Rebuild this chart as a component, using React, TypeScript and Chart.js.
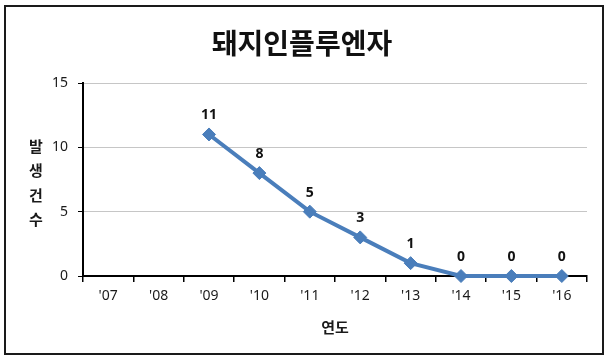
import React, { useEffect, useRef } from "react";
import { Chart, registerables } from "chart.js";

Chart.register(...registerables);

const TITLE = "돼지인플루엔자";
const Y_LABEL = ["발", "생", "건", "수"];
const X_LABEL = "연도";
const YEARS = ["'07", "'08", "'09", "'10", "'11", "'12", "'13", "'14", "'15", "'16"];
const CASES: (number | null)[] = [null, null, 11, 8, 5, 3, 1, 0, 0, 0];

const KR = "'Noto Sans CJK KR', 'Noto Sans', sans-serif";
const NUM = "'Noto Sans', 'DejaVu Sans', sans-serif";
const LINE = "#4A7EBB";

const decorPlugin = {
  id: "decor",
  beforeDraw(chart: any) {
    const ctx = chart.ctx;
    ctx.save();
    ctx.fillStyle = "#ffffff";
    ctx.fillRect(0, 0, chart.width, chart.height);
    ctx.restore();
  },
  afterDraw(chart: any) {
    const ctx = chart.ctx;
    const ca = chart.chartArea;
    ctx.save();
    ctx.strokeStyle = "#1a1a1a";
    ctx.lineWidth = 2;
    ctx.strokeRect(5, 6, 598, 348);
    ctx.fillStyle = "#111111";
    ctx.font = `bold 28px ${KR}`;
    ctx.textAlign = "center";
    ctx.textBaseline = "middle";
    ctx.fillText(TITLE, 302, 43);
    ctx.font = `bold 15px ${KR}`;
    ctx.fillStyle = "#1a1a1a";
    const mid = (ca.top + ca.bottom) / 2 + 3.5;
    const step = 24.5;
    Y_LABEL.forEach((ch, i) => {
      ctx.fillText(ch, 36, mid + (i - (Y_LABEL.length - 1) / 2) * step);
    });
    ctx.restore();
  },
  afterDatasetsDraw(chart: any) {
    const ctx = chart.ctx;
    const meta = chart.getDatasetMeta(0);
    const data = chart.data.datasets[0].data;
    ctx.save();
    ctx.font = `bold 14px ${NUM}`;
    ctx.fillStyle = "#111111";
    ctx.textAlign = "center";
    ctx.textBaseline = "middle";
    meta.data.forEach((pt: any, i: number) => {
      const v = data[i];
      if (v === null || v === undefined) return;
      ctx.fillText(String(v), pt.x, pt.y - 19);
    });
    ctx.restore();
  },
};

export default function App() {
  const ref = useRef<HTMLCanvasElement | null>(null);
  useEffect(() => {
    if (!ref.current) return;
    const chart = new Chart(ref.current, {
      type: "line",
      data: {
        labels: YEARS,
        datasets: [
          {
            data: CASES,
            borderColor: LINE,
            backgroundColor: LINE,
            borderWidth: 4,
            pointStyle: "rectRot",
            pointRadius: 6.5,
            pointBackgroundColor: LINE,
            pointBorderColor: LINE,
            pointBorderWidth: 1,
            tension: 0,
            clip: false as any,
          },
        ],
      },
      options: {
        responsive: false,
        animation: false,
        devicePixelRatio: 1,
        layout: { padding: { top: 83, left: 0, right: 22, bottom: 0 } },
        plugins: {
          legend: { display: false },
          title: { display: false },
          tooltip: { enabled: false },
        },
        scales: {
          x: {
            type: "category",
            offset: true,
            grid: {
              display: true,
              drawOnChartArea: false,
              drawTicks: true,
              tickLength: 6,
              color: "#000000",
              tickColor: "#000000",
              lineWidth: 1.5,
              offset: true,
            },
            border: { display: true, color: "#000000", width: 2 },
            ticks: {
              font: { family: NUM, size: 14 },
              color: "#1a1a1a",
              padding: 6,
              maxRotation: 0,
              autoSkip: false,
            },
            title: {
              display: true,
              text: X_LABEL,
              font: { family: KR, size: 15, weight: "bold" },
              color: "#1a1a1a",
              padding: { top: 0, bottom: 24 },
            },
            afterFit: (s: any) => {
              s.height = 84;
            },
          },
          y: {
            min: 0,
            max: 15,
            ticks: {
              stepSize: 5,
              font: { family: NUM, size: 14 },
              color: "#1a1a1a",
              padding: 10,
            },
            grid: {
              color: "#c6c6c6",
              tickColor: "#000000",
              tickLength: 5,
              lineWidth: 1,
            },
            border: { display: true, color: "#000000", width: 2 },
            afterFit: (s: any) => {
              s.width = 83;
            },
          },
        },
      },
      plugins: [decorPlugin],
    });
    return () => chart.destroy();
  }, []);
  return (
    <div style={{ position: "absolute", left: 0, top: 0, width: 609, height: 360, background: "#fff" }}>
      <canvas ref={ref} width={609} height={360} style={{ display: "block", width: 609, height: 360 }} />
    </div>
  );
}
